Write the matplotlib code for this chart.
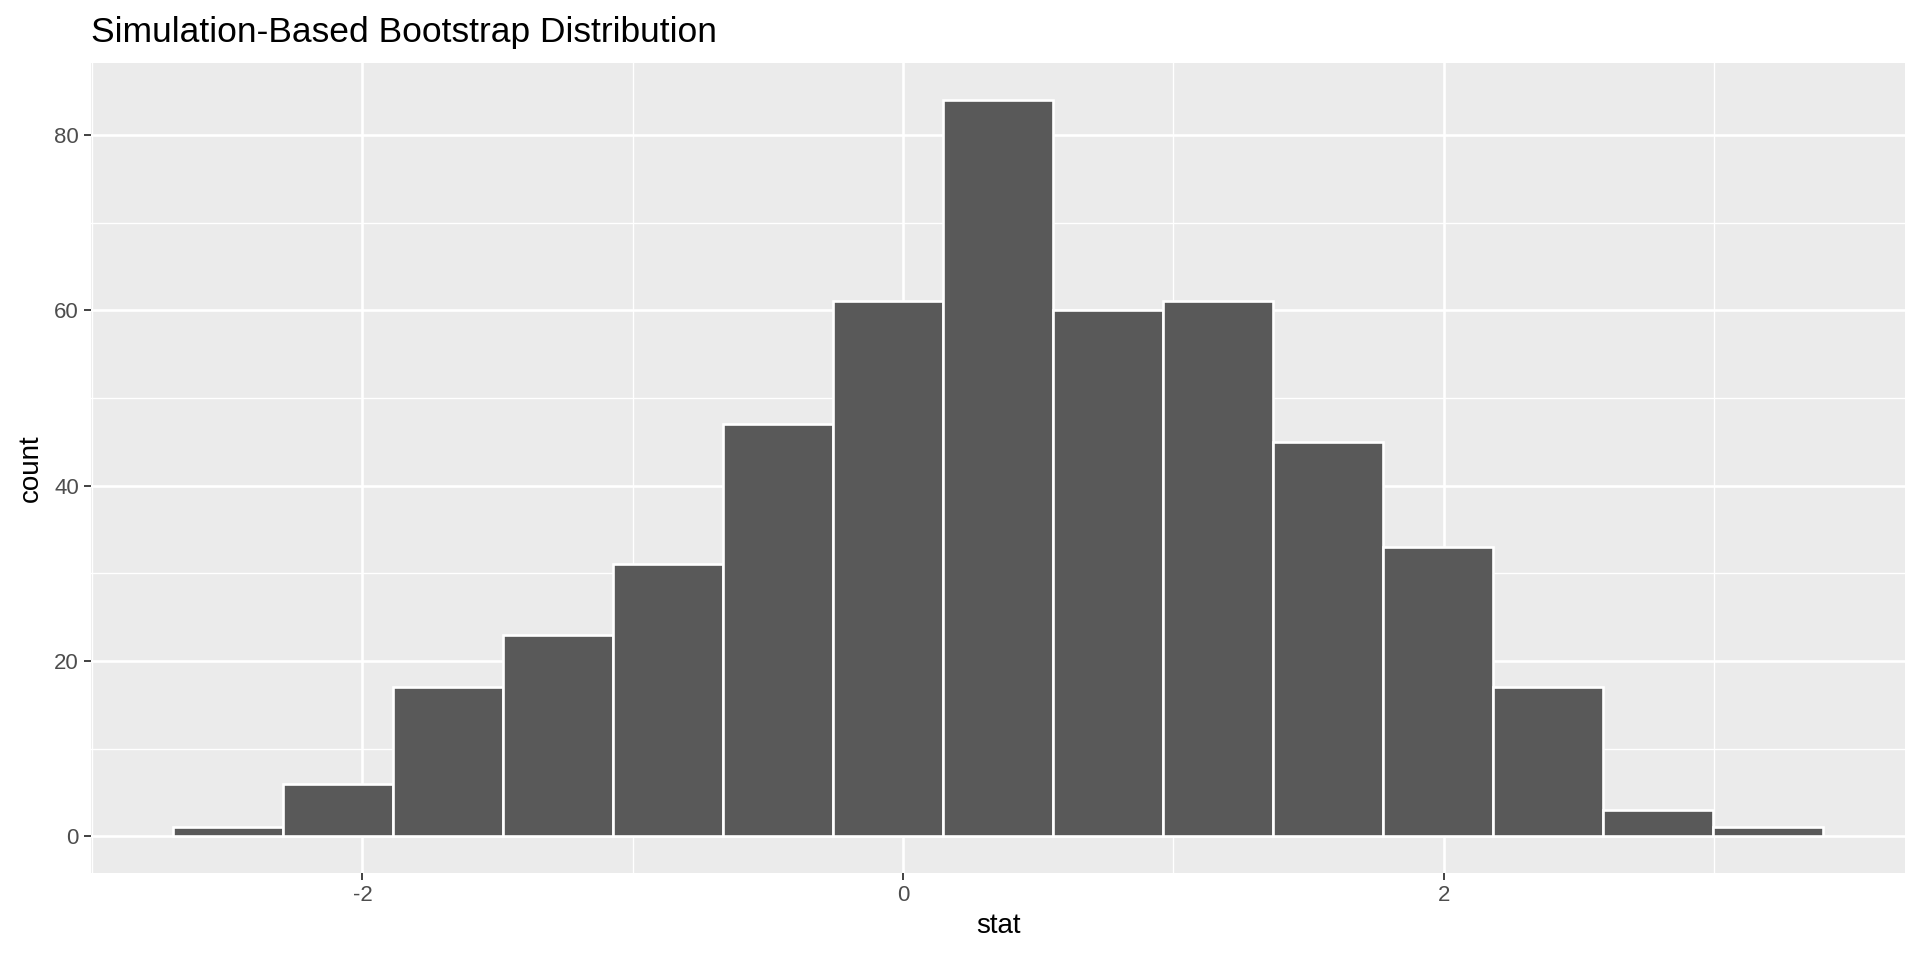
import matplotlib.pyplot as plt
import numpy as np

# histogram of bootstrap statistic
counts = [1, 6, 17, 23, 31, 47, 61, 84, 60, 61, 45, 33, 17, 3, 1]
bin_start = -2.699
bin_width = 0.4067

x_major = [-2, 0, 2]
x_minor = [-3, -1, 1, 3]
y_major = [0, 20, 40, 60, 80]
y_minor = [10, 30, 50, 70]

title = 'Simulation-Based Bootstrap Distribution'
xlabel = 'stat'
ylabel = 'count'

plt.rcParams['font.family'] = ['Liberation Sans', 'DejaVu Sans']

W, H = 1920, 960
fig = plt.figure(figsize=(W / 100, H / 100), dpi=100)
left, right, top, bottom = 91, 1905, 63, 873
ax = fig.add_axes([left / W, 1 - bottom / H, (right - left) / W, (bottom - top) / H])
ax.set_facecolor('#EBEBEB')
for s in ax.spines.values():
    s.set_visible(False)

edges = bin_start + bin_width * np.arange(len(counts))
ax.bar(edges, counts, width=bin_width, align='edge', color='#595959',
       edgecolor='white', linewidth=1.9, zorder=3)

lo = bin_start
hi = bin_start + bin_width * len(counts)
pad = (hi - lo) * 0.05
ax.set_xlim(lo - pad, hi + pad)
ymax = max(counts)
ax.set_ylim(-ymax * 0.05, ymax * 1.05)

ax.set_xticks(x_major)
ax.set_xticks(x_minor, minor=True)
ax.set_yticks(y_major)
ax.set_yticks(y_minor, minor=True)
ax.set_xticklabels([str(v) for v in x_major])
ax.set_yticklabels([str(v) for v in y_major])

ax.grid(which='major', color='white', linewidth=1.9, zorder=1)
ax.grid(which='minor', color='white', linewidth=0.95, zorder=1)
ax.set_axisbelow(True)

ax.tick_params(which='major', length=4.8, width=1.3, color='#333333',
               labelcolor='#4D4D4D', labelsize=16, pad=4)
ax.tick_params(which='minor', length=0)

ax.set_xlabel(xlabel, fontsize=20, color='black', labelpad=5)
ax.set_ylabel(ylabel, fontsize=20, color='black', labelpad=7)

fig.text(left / W, 1 - 42 / H, title, fontsize=25.5, color='black',
         ha='left', va='baseline')

plt.savefig('out.png', dpi=100)
